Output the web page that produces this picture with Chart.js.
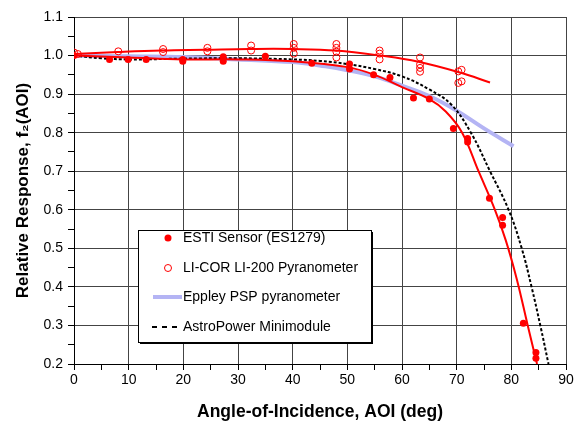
<!DOCTYPE html>
<html>
<head>
<meta charset="utf-8">
<script src="https://cdn.jsdelivr.net/npm/chart.js@4.4.1/dist/chart.umd.min.js"></script>
<style>
  body { margin: 0; background: #fff; }
  #wrap { width: 576px; height: 428px; }
</style>
</head>
<body>
<div id="wrap"><canvas id="chart" width="576" height="428"></canvas></div>
<script>
// measured points
const estiAoi = [0, 6.5, 9.9, 13.2, 19.9, 19.9, 27.3, 27.3, 35, 43.5, 50.4, 50.4, 54.8, 57.8, 62.1, 65, 69.4, 72, 72, 76, 78.4, 78.4, 82.2, 84.5, 84.5];
const estiResp = [1.0, 0.99, 0.99, 0.99, 0.99, 0.985, 0.997, 0.985, 0.998, 0.98, 0.978, 0.965, 0.95, 0.943, 0.89, 0.887, 0.811, 0.785, 0.776, 0.63, 0.58, 0.56, 0.306, 0.23, 0.215];

const licorAoi = [0, 0.7, 8.1, 16.3, 16.3, 24.4, 24.4, 32.4, 32.4, 40.2, 40.2, 40.2, 48, 48, 48, 48, 55.9, 55.9, 55.9, 63.3, 63.3, 63.3, 63.3, 70.3, 70.9, 70.3, 70.9];
const licorResp = [1.008, 1.004, 1.011, 1.017, 1.009, 1.02, 1.011, 1.026, 1.013, 1.03, 1.02, 1.005, 1.03, 1.02, 1.01, 0.995, 1.013, 1.005, 0.99, 0.995, 0.977, 0.968, 0.958, 0.959, 0.963, 0.929, 0.933];

// fitted curves
const estiFitAoi = [0, 10, 20, 30, 40, 50, 55, 60, 65, 68, 71, 74, 77, 79, 81, 83, 84.7];
const estiFitResp = [1.0, 0.995, 0.99, 0.99, 0.985, 0.97, 0.95, 0.918, 0.887, 0.855, 0.8, 0.7, 0.6, 0.52, 0.42, 0.3, 0.2];

const licorFitAoi = [0, 8, 16, 24, 32, 40, 48, 56, 63, 70.6, 76.1];
const licorFitResp = [1.004, 1.009, 1.013, 1.015, 1.017, 1.017, 1.013, 1.0, 0.984, 0.956, 0.93];

const eppleyAoi = [0, 10, 20, 30, 40, 46, 50, 55, 60, 65, 70, 75, 80.4];
const eppleyResp = [1.0, 0.998, 0.996, 0.99, 0.983, 0.972, 0.962, 0.946, 0.922, 0.895, 0.857, 0.811, 0.765];

const astroAoi = [0, 5, 10, 20, 30, 40, 45, 50, 55, 60, 65, 69, 72.6, 76.1, 79.5, 81.9, 83.7, 85.3, 86.8];
const astroResp = [1.0, 0.993, 0.99, 0.992, 0.993, 0.99, 0.986, 0.978, 0.965, 0.946, 0.912, 0.873, 0.8, 0.7, 0.6, 0.5, 0.4, 0.3, 0.2];

const legendLabels = ['ESTI Sensor (ES1279)', 'LI-COR LI-200 Pyranometer', 'Eppley PSP pyranometer', 'AstroPower Minimodule'];

const RED = '#ff0000';
const BLUE = '#b4b4f4';

function pts(xs, ys) {
    return xs.map((x, i) => ({ x: x, y: ys[i] }));
}

Chart.defaults.font.family = "'Liberation Sans', Arial, sans-serif";
Chart.defaults.font.size = 14;
Chart.defaults.color = '#000';

// legend box drawn inside the plot, like the original
const boxLegend = {
    id: 'boxLegend',
    afterDatasetsDraw(chart) {
        const ctx = chart.ctx;
        const a = chart.chartArea;
        const x = a.left + 64, y = a.top + 213, w = 233, h = 112;
        ctx.save();
        ctx.fillStyle = '#000';
        ctx.fillRect(x + 2, y + 2, w, h);
        ctx.fillStyle = '#fff';
        ctx.fillRect(x, y, w, h);
        ctx.strokeStyle = '#000';
        ctx.lineWidth = 1;
        ctx.strokeRect(x + 0.5, y + 0.5, w, h);

        const rows = [y + 8, y + 38, y + 67, y + 97];
        // filled dot
        ctx.beginPath();
        ctx.fillStyle = RED;
        ctx.arc(x + 30, rows[0], 3.5, 0, Math.PI * 2);
        ctx.fill();
        // hollow dot
        ctx.beginPath();
        ctx.strokeStyle = RED;
        ctx.arc(x + 30, rows[1], 3.5, 0, Math.PI * 2);
        ctx.stroke();
        // blue line
        ctx.beginPath();
        ctx.strokeStyle = BLUE;
        ctx.lineWidth = 4;
        ctx.moveTo(x + 15, rows[2]);
        ctx.lineTo(x + 44, rows[2]);
        ctx.stroke();
        // dashed black
        ctx.beginPath();
        ctx.strokeStyle = '#000';
        ctx.lineWidth = 2;
        ctx.setLineDash([5, 5]);
        ctx.moveTo(x + 14, rows[3]);
        ctx.lineTo(x + 40, rows[3]);
        ctx.stroke();
        ctx.setLineDash([]);

        ctx.fillStyle = '#000';
        ctx.font = "14px 'Liberation Sans', Arial, sans-serif";
        ctx.textBaseline = 'middle';
        ctx.textAlign = 'left';
        legendLabels.forEach((t, i) => ctx.fillText(t, x + 45, rows[i]));
        ctx.restore();
    }
};

const isMajorX = v => Math.round(v) % 10 === 0;
const isMajorY = v => Math.round(v * 100) % 10 === 0;

new Chart(document.querySelector('#chart'), {
    type: 'scatter',
    data: {
        datasets: [{
            label: legendLabels[0],
            data: pts(estiAoi, estiResp),
            pointRadius: 3.5,
            pointBackgroundColor: RED,
            pointBorderColor: RED,
            pointBorderWidth: 0,
            order: 1
        }, {
            label: legendLabels[1],
            data: pts(licorAoi, licorResp),
            pointRadius: 3.5,
            pointBackgroundColor: 'rgba(0,0,0,0)',
            pointBorderColor: RED,
            pointBorderWidth: 1,
            order: 2
        }, {
            label: 'ESTI fit',
            data: pts(estiFitAoi, estiFitResp),
            showLine: true,
            pointRadius: 0,
            borderColor: RED,
            borderWidth: 2,
            tension: 0.4,
            order: 3
        }, {
            label: 'LI-COR fit',
            data: pts(licorFitAoi, licorFitResp),
            showLine: true,
            pointRadius: 0,
            borderColor: RED,
            borderWidth: 2,
            tension: 0.4,
            order: 4
        }, {
            label: legendLabels[3],
            data: pts(astroAoi, astroResp),
            showLine: true,
            pointRadius: 0,
            borderColor: '#000',
            borderWidth: 2,
            borderDash: [3, 2],
            tension: 0.4,
            order: 5
        }, {
            label: legendLabels[2],
            data: pts(eppleyAoi, eppleyResp),
            showLine: true,
            pointRadius: 0,
            borderColor: BLUE,
            borderWidth: 4,
            tension: 0.4,
            order: 6
        }]
    },
    options: {
        responsive: false,
        animation: false,
        layout: { padding: { top: 17, right: 10, left: 0, bottom: 0 } },
        plugins: {
            legend: { display: false },
            tooltip: { enabled: false }
        },
        scales: {
            x: {
                type: 'linear',
                min: 0,
                max: 90,
                ticks: {
                    stepSize: 5,
                    autoSkip: false,
                    maxRotation: 0,
                    padding: 2,
                    callback: v => isMajorX(v) ? String(v) : ''
                },
                grid: {
                    color: c => (c.tick && isMajorX(c.tick.value)) ? '#444' : 'rgba(0,0,0,0)',
                    tickColor: '#000',
                    tickLength: 6
                },
                border: { color: '#000', width: 1 },
                title: {
                    display: true,
                    text: 'Angle-of-Incidence, AOI (deg)',
                    font: { size: 17.5, weight: 'bold' },
                    padding: { top: 4, bottom: 5 }
                },
                afterFit: s => { s.height = 64; }
            },
            y: {
                type: 'linear',
                min: 0.2,
                max: 1.1,
                ticks: {
                    stepSize: 0.05,
                    autoSkip: false,
                    padding: 5,
                    callback: v => isMajorY(v) ? v.toFixed(1) : ''
                },
                grid: {
                    color: c => (c.tick && isMajorY(c.tick.value)) ? '#444' : 'rgba(0,0,0,0)',
                    tickColor: '#000',
                    tickLength: 6
                },
                border: { color: '#000', width: 1 },
                title: {
                    display: true,
                    text: 'Relative Response, f₂(AOI)',
                    font: { size: 17, weight: 'bold' },
                    padding: { top: 13, bottom: 4 }
                },
                afterFit: s => { s.width = 74; }
            }
        }
    },
    plugins: [boxLegend]
});
</script>
</body>
</html>
